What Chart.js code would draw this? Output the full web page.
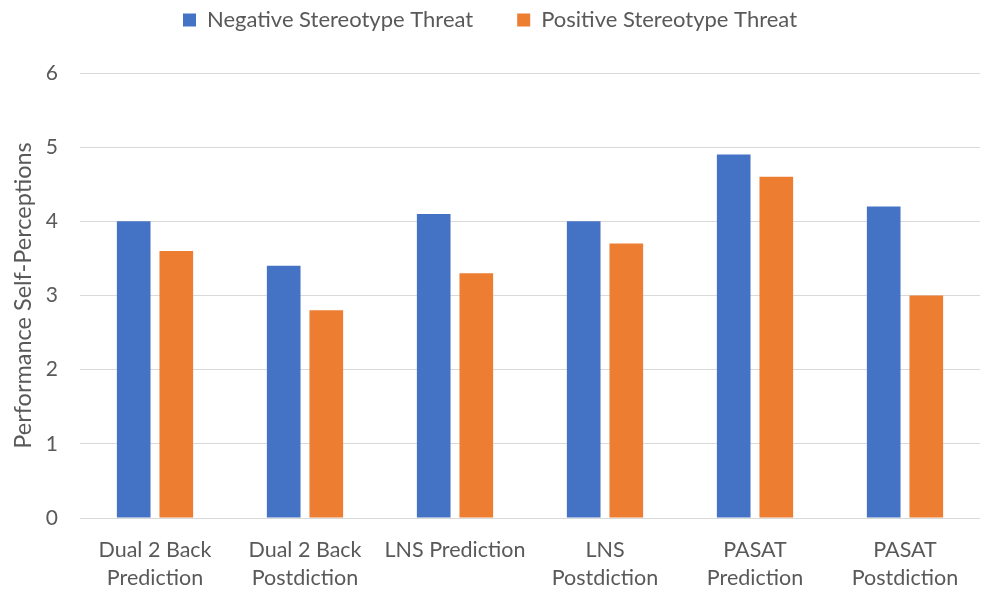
<!DOCTYPE html>
<html>
<head>
<meta charset="utf-8">
<script src="https://cdn.jsdelivr.net/npm/chart.js@4/dist/chart.umd.min.js"></script>
<style>
  html, body { margin: 0; padding: 0; background: #ffffff; }
  #wrap { width: 982px; height: 590px; position: relative; }
</style>
</head>
<body>
<div id="wrap"><canvas id="chart" width="982" height="590"></canvas></div>
<script>
// Task categories (multi-line labels as drawn under the axis)
const categories = [
  ["Dual 2 Back", "Prediction"],
  ["Dual 2 Back", "Postdiction"],
  "LNS Prediction",
  ["LNS", "Postdiction"],
  ["PASAT", "Prediction"],
  ["PASAT", "Postdiction"]
];

// Mean self-perception ratings per condition
const negativeThreat = [4.0, 3.4, 4.1, 4.0, 4.9, 4.2];
const positiveThreat = [3.6, 2.8, 3.3, 3.7, 4.6, 3.0];

const seriesNames = ["Negative Stereotype Threat", "Positive Stereotype Threat"];
const yTicks = [0, 1, 2, 3, 4, 5, 6];
const yTitle = "Performance Self-Perceptions";

const FONT = "Lato, 'Open Sans', sans-serif";
const TEXT = "#595959";
const GRID = "#D9D9D9";

// Legend spacing doubles as its vertical inset, so the band starts above the canvas
const LEGEND_GAP = 44;
const LEGEND_TOP = -35;
const PLOT_TOP = 73;

const legendBand = {
  id: "legendBand",
  beforeLayout(chart) {
    const lg = chart.legend;
    if (lg && !lg._bandWrapped) {
      const fit = lg.fit.bind(lg);
      lg.fit = function () {
        fit();
        this.height = PLOT_TOP - LEGEND_TOP;
      };
      lg._bandWrapped = true;
    }
  }
};

new Chart(document.getElementById("chart"), {
  type: "bar",
  data: {
    labels: categories,
    datasets: [
      { label: seriesNames[0], data: negativeThreat, backgroundColor: "#4472C4",
        categoryPercentage: 0.568, barPercentage: 0.79 },
      { label: seriesNames[1], data: positiveThreat, backgroundColor: "#ED7D31",
        categoryPercentage: 0.568, barPercentage: 0.79 }
    ]
  },
  plugins: [legendBand],
  options: {
    responsive: false,
    animation: false,
    devicePixelRatio: 1,
    layout: { padding: { top: LEGEND_TOP, right: 2, left: 0, bottom: 0 } },
    plugins: {
      tooltip: { enabled: false },
      legend: {
        position: "top",
        labels: {
          boxWidth: 13, boxHeight: 13, padding: LEGEND_GAP,
          color: TEXT, font: { family: FONT, size: 22 }
        }
      }
    },
    scales: {
      x: {
        grid: { display: false, drawTicks: false },
        border: { display: false },
        ticks: { color: TEXT, font: { family: FONT, size: 21.5, lineHeight: 1.3 }, padding: 18, maxRotation: 0, autoSkip: false },
        afterFit: (s) => { s.height = 72; }
      },
      y: {
        min: 0, max: 6,
        afterBuildTicks: (s) => { s.ticks = yTicks.map(v => ({ value: v })); },
        grid: { color: GRID, lineWidth: 1, drawTicks: false },
        border: { display: false },
        ticks: { color: TEXT, font: { family: FONT, size: 21 }, padding: 22 },
        title: { display: true, text: yTitle, color: TEXT, font: { family: FONT, size: 23.5 }, padding: { top: 9, bottom: 0 } },
        afterFit: (s) => { s.width = 80; }
      }
    }
  }
});
</script>
</body>
</html>
